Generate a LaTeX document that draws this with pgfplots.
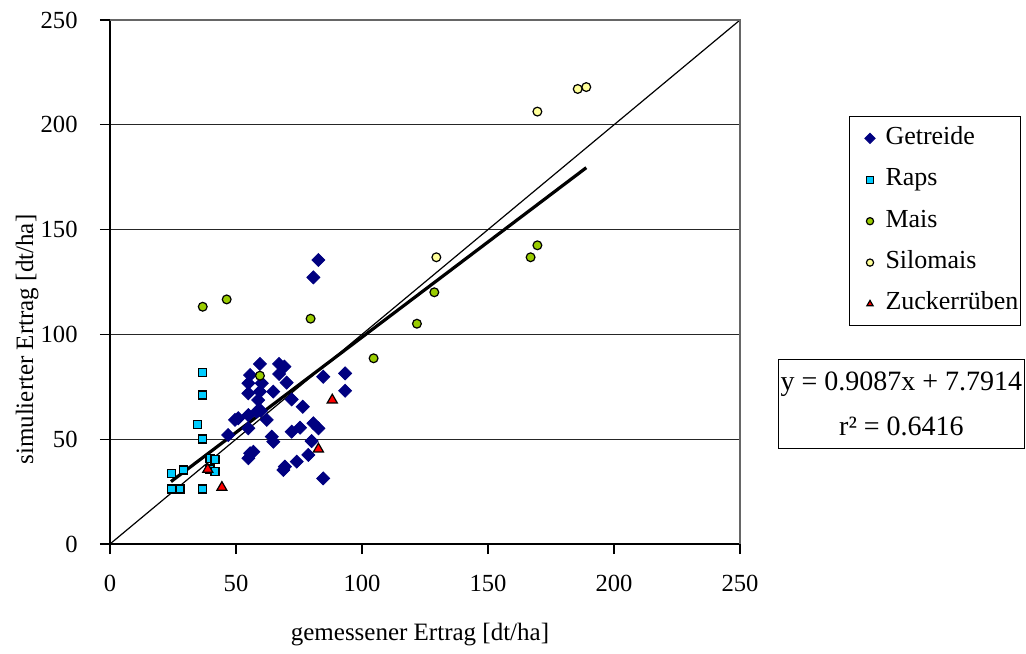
\documentclass[border=0pt]{standalone}
\usepackage{pgfplots}
\pgfplotsset{compat=1.18}
\usepackage{fontspec}
\setmainfont{Liberation Serif}
\definecolor{getreide}{HTML}{000080}
\definecolor{raps}{HTML}{00CCFF}
\definecolor{mais}{HTML}{99CC00}
\definecolor{silomais}{HTML}{FFFF99}
\definecolor{zucker}{HTML}{FF0000}
\begin{document}
\begin{tikzpicture}
\useasboundingbox (-55pt,-54.5pt) rectangle (458pt,272pt);
\begin{axis}[
  at={(0pt,0pt)}, anchor=south west,
  scale only axis, width=315pt, height=262pt,
  xmin=0, xmax=250, ymin=0, ymax=250,
  clip=false,
  xtick={0,50,...,250}, ytick={0,50,...,250},
  axis x line*=bottom, axis y line*=left,
  axis line style={black, line width=0.6pt, -},
  tick align=outside, major tick length=5pt,
  tick style={black, line width=0.6pt},
  ymajorgrids, grid style={black!85, line width=0.5pt},
  /pgf/number format/assume math mode=true,
  tick label style={font=\fontsize{12.3}{14}\selectfont},
  xticklabel style={anchor=north, inner sep=0pt, yshift=-10.5pt},
  yticklabel style={anchor=east, inner sep=0pt, xshift=-11pt},
  xlabel={gemessener Ertrag [dt/ha]},
  ylabel={simulierter Ertrag [dt/ha]},
  label style={font=\fontsize{12.5}{14}\selectfont},
  xlabel style={at={(axis description cs:0.492,0)}, anchor=center, yshift=-45.5pt},
  ylabel style={at={(axis description cs:-0.1317,0.1508)}, rotate=0, anchor=west, inner sep=0pt},
  legend style={at={(rel axis cs:1.173,0.817)}, anchor=north west, draw=black, line width=0.5pt,
    font=\fontsize{13}{15}\selectfont, inner xsep=1pt, inner ysep=5pt, row sep=8.7pt, column sep=4.5pt,
    nodes={inner sep=0pt, text height=9pt, text depth=3pt}},
  legend cell align=left,
  legend image code/.code={\path (0pt,0pt) (12pt,0pt); \draw[mark repeat=2,mark phase=2,#1] plot coordinates {(0pt,0pt)(9pt,0pt)(12pt,0pt)};},
  legend image post style={mark size=1.8pt},
]
% Getreide
\addplot[only marks, mark=square*, mark size=2.3pt, mark options={rotate=45, fill=getreide, draw=getreide}] coordinates {
(82.7,135.5)(80.7,127.2)(59.5,85.9)(67.1,85.9)(69.2,84.6)(67.1,81.1)(55.6,80.6)
(54.9,76.7)(60.2,76.7)(59.5,72.7)(58.8,68.7)(70.1,77.0)(64.8,72.7)(54.9,71.9)
(72.1,69.0)(84.6,79.8)(93.3,81.4)(93.3,73.1)(76.5,65.5)(58.2,63.1)(54.9,61.5)
(50.9,60.0)(49.6,59.2)(62.2,59.2)(54.9,55.2)(46.9,52.0)(64.2,51.2)(64.8,48.8)
(72.1,53.6)(75.4,55.5)(80.7,57.6)(82.7,55.2)(80.0,49.1)(55.6,43.3)(56.9,44.0)
(54.9,40.9)(78.7,42.5)(74.1,39.3)(69.4,36.9)(68.8,35.3)(84.6,31.3)(59.9,63.5)
};
\addlegendentry{Getreide}
% Raps
\addplot[only marks, mark=square*, mark size=2.0pt, mark options={fill=raps, draw=black, line width=0.6pt}] coordinates {
(36.8,81.9)(36.8,71.1)(34.6,57.1)(36.8,50.1)(39.7,40.9)(41.7,40.4)(39.7,35.8)
(41.7,34.5)(29.1,35.3)(24.4,33.7)(24.4,26.2)(27.8,26.2)(36.8,26.2)
};
\addlegendentry{Raps}
% Mais
\addplot[only marks, mark=*, mark size=2.2pt, mark options={fill=mais, draw=black, line width=0.6pt}] coordinates {
(36.8,113.2)(46.3,116.7)(79.6,107.5)(59.5,80.3)(104.6,88.6)(121.8,105.1)(128.7,120.1)(166.9,136.8)(169.6,142.5)
};
\addlegendentry{Mais}
% Silomais
\addplot[only marks, mark=*, mark size=2.2pt, mark options={fill=silomais, draw=black, line width=0.6pt}] coordinates {
(129.5,136.8)(169.6,206.3)(185.6,217.1)(189.0,218.0)
};
\addlegendentry{Silomais}
% Zuckerrueben
\addplot[only marks, mark=triangle*, mark size=2.9pt, mark options={fill=zucker, draw=black, line width=0.6pt}] coordinates {
(88.2,68.7)(82.7,45.3)(38.8,35.6)(44.4,27.0)
};
\addlegendentry{Zuckerrüben}
% Regression line
\addplot[forget plot, black, line width=1.6pt, no marks] coordinates {(24.2,29.78)(189,179.54)};
% 1:1 line
\addplot[forget plot, black, line width=0.6pt, no marks] coordinates {(0,0)(250,250)};
\draw[black!60, line width=0.6pt] (rel axis cs:0,1) -- (rel axis cs:1,1) -- (rel axis cs:1,0);
\node[draw=black, line width=0.5pt, align=center, inner xsep=1pt, inner ysep=6pt,
  font=\fontsize{14}{22.5}\selectfont] at (rel axis cs:1.2563,0.2672)
  {y = 0.9087x + 7.7914\\r² = 0.6416};
\end{axis}
\end{tikzpicture}
\end{document}
